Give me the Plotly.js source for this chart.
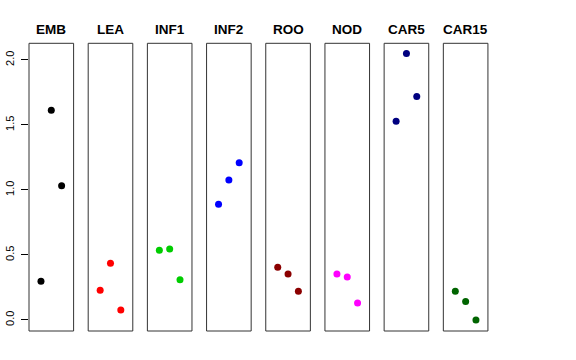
<!DOCTYPE html>
<html>
<head>
<meta charset="utf-8">
<script src="https://cdn.plot.ly/plotly-3.0.1.min.js"></script>
<style>html,body{margin:0;padding:0;background:#fff;}#chart{width:576px;height:360px;}</style>
</head>
<body>
<div id="chart"></div>
<script>
const categories = ["EMB", "LEA", "INF1", "INF2", "ROO", "NOD", "CAR5", "CAR15"];
const colors = ["#000000", "#FF0000", "#00CD00", "#0000FF", "#8B0000", "#FF00FF", "#000080", "#006400"];
const positions = [1, 2, 3];
const EMB = [0.297, 1.613, 1.033];
const LEA = [0.228, 0.436, 0.077];
const INF1 = [0.536, 0.546, 0.310];
const INF2 = [0.890, 1.077, 1.210];
const ROO = [0.405, 0.354, 0.221];
const NOD = [0.354, 0.331, 0.131];
const CAR5 = [1.528, 2.049, 1.718];
const CAR15 = [0.221, 0.141, 0.000];
const series = [EMB, LEA, INF1, INF2, ROO, NOD, CAR5, CAR15];
const yTicks = [0, 0.5, 1, 1.5, 2];

const W = 576, H = 360;
const panelLeft0 = 29, panelStep = 59.19, panelWidth = 44.6;
const plotTop = 43.3, plotBottom = 331;

const traces = [];
const layout = {
  width: W, height: H,
  margin: {l: 0, r: 0, t: 0, b: 0},
  paper_bgcolor: "#ffffff", plot_bgcolor: "#ffffff",
  showlegend: false,
  font: {family: "Liberation Sans, Arial, sans-serif", color: "#000000"},
  shapes: [], annotations: [],
  yaxis: {
    domain: [1 - plotBottom / H, 1 - plotTop / H],
    range: [-0.085, 2.128],
    anchor: "x",
    tickvals: yTicks,
    tickformat: ".1f",
    tickangle: -90,
    ticks: "outside", ticklen: 7, tickwidth: 1, tickcolor: "#000",
    ticklabelstandoff: 3,
    tickfont: {size: 11, color: "#000"},
    showgrid: false, zeroline: false, showline: false
  }
};

categories.forEach((cat, i) => {
  const ax = i === 0 ? "x" : "x" + (i + 1);
  const axKey = i === 0 ? "xaxis" : "xaxis" + (i + 1);
  const left = panelLeft0 + i * panelStep;
  layout[axKey] = {
    domain: [left / W, (left + panelWidth) / W],
    range: [-0.16, 4.16],
    anchor: "y",
    visible: false,
    showgrid: false, zeroline: false
  };
  traces.push({
    type: "scatter", mode: "markers",
    x: positions, y: series[i],
    xaxis: ax, yaxis: "y",
    marker: {color: colors[i], size: 7},
    hoverinfo: "skip"
  });
  layout.shapes.push({
    type: "rect", xref: ax + " domain", yref: "y domain",
    x0: 0, x1: 1, y0: 0, y1: 1,
    line: {color: "#333333", width: 1}
  });
  layout.annotations.push({
    xref: ax + " domain", yref: "paper",
    x: 0.5, y: 1 - 29 / H,
    xanchor: "center", yanchor: "middle",
    text: "<b>" + cat + "</b>", showarrow: false,
    font: {size: 13.5, color: "#000"}
  });
});

Plotly.newPlot("chart", traces, layout, {staticPlot: true, displayModeBar: false});
</script>
</body>
</html>
